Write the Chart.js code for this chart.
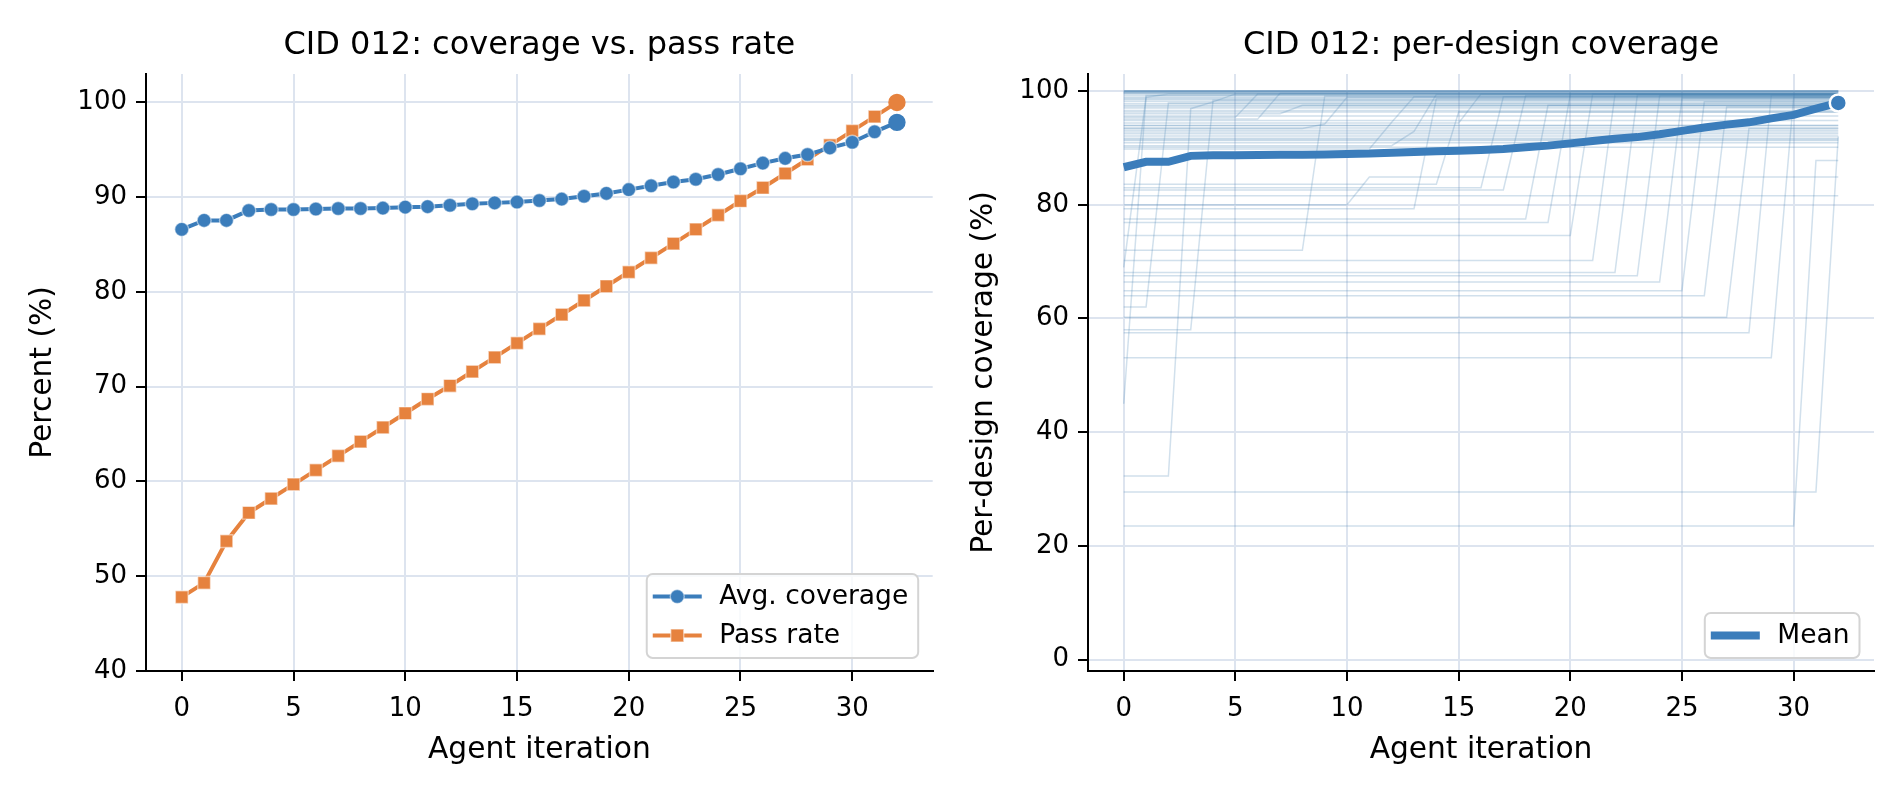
<!DOCTYPE html>
<html>
<head>
<meta charset="utf-8">
<script src="https://cdn.jsdelivr.net/npm/chart.js@4.4.1/dist/chart.umd.min.js"></script>
<style>
  html, body { margin: 0; padding: 0; background: #fff; }
  #wrap { position: relative; width: 1900px; height: 793px; overflow: hidden; }
  .panel { position: absolute; top: 0; width: 950px; height: 793px; }
  #p1 { left: 0; }
  #p2 { left: 950px; }
</style>
</head>
<body>
<div id="wrap">
  <div class="panel" id="p1"><canvas id="c1" width="950" height="793"></canvas></div>
  <div class="panel" id="p2"><canvas id="c2" width="950" height="793"></canvas></div>
</div>
<script>
// ---------------- data ----------------
const iterations = [0,1,2,3,4,5,6,7,8,9,10,11,12,13,14,15,16,17,18,19,20,21,22,23,24,25,26,27,28,29,30,31,32];
const avgCoverage = [86.6,87.55,87.55,88.6,88.7,88.7,88.75,88.8,88.8,88.85,88.95,89.0,89.15,89.3,89.4,89.5,89.65,89.8,90.1,90.4,90.8,91.2,91.6,91.9,92.4,93.0,93.6,94.1,94.5,95.2,95.8,96.9,97.9];
const passRate = [47.8,49.3,53.7,56.7,58.2,59.7,61.2,62.7,64.2,65.7,67.2,68.7,70.1,71.6,73.1,74.6,76.1,77.6,79.1,80.6,82.1,83.6,85.1,86.6,88.1,89.6,91.0,92.5,94.0,95.5,97.0,98.5,100.0];
const meanCoverage = avgCoverage;
const xTicks = [0,5,10,15,20,25,30];
const yTicksLeft = [40,50,60,70,80,90,100];
const yTicksRight = [0,20,40,60,80,100];
// per-design coverage: [iteration, value] change points (value holds until next change)
const designs = [
  [[0,100]],[[0,100]],[[0,100]],[[0,100]],[[0,99.9]],[[0,99.8]],[[0,99.6]],[[0,99.5]],[[0,99.2]],
  [[0,98.9],[2,99.5]],[[0,98.5]],[[0,98.2]],[[0,97.8]],[[0,97.5]],[[0,97.0]],[[0,96.6]],
  [[0,96.0],[8,97.5]],[[0,95.6]],[[0,95.4],[6,99.5]],[[0,95.1],[7,99.6]],[[0,94.8]],
  [[0,94.4],[16,99.5]],[[0,93.9]],[[0,93.5]],[[0,93.4],[9,94.2],[10,98.9]],[[0,93.1]],
  [[0,92.8]],[[0,92.5]],[[0,92.1]],[[0,91.7]],[[0,91.3]],[[0,90.9]],
  [[0,90.4],[13,92.9],[14,99.4]],[[0,89.8],[12,94.5],[13,99.0]],
  [[0,99.7]],[[0,98.7]],[[0,97.3]],[[0,96.3]],[[0,94.0]],[[0,91.5]],[[0,90.1]],
  [[0,83.6],[15,96.3]],[[0,83.0],[17,99.0]],[[0,82.6],[18,99.2]],[[0,81.6]],
  [[0,80.0],[11,84.9]],[[0,79.3],[14,98.7]],[[0,77.5],[19,97.5]],[[0,76.9],[20,99.5]],
  [[0,74.6],[21,99.5]],[[0,70.2],[22,99.4]],[[0,68.1],[23,99.3]],[[0,67.5],[24,99.2]],
  [[0,66.4],[25,98.8]],[[0,64.9],[26,98.1]],[[0,64.0],[27,97.2]],[[0,60.2],[28,93.4]],
  [[0,57.5],[29,99.3]],[[0,53.1],[30,98.9]],[[0,23.5],[31,87.8]],[[0,29.5],[32,92.0]],
  [[0,32.3],[3,96.9],[4,98.1],[5,99.5]],[[0,69.0],[1,98.9]],[[0,45.0],[1,99.2]],
  [[0,62.0],[2,97.9]],[[0,58.0],[4,98.4]],[[0,72.0],[9,99.1]]
];

// ---------------- styles ----------------
const BLUE = '#3b7dbb';
const ORANGE = '#e6823e';
const GRID = '#dde4ef';
const FONT = '"DejaVu Sans", sans-serif';
const lastIter = iterations[iterations.length - 1];
const lastIdx = iterations.length - 1;

function toPoints(ys) { return iterations.map((x, i) => ({x: x, y: ys[i]})); }
function stepVertices(changes) {
  const pts = [{x: changes[0][0], y: changes[0][1]}];
  for (let i = 1; i < changes.length; i++) {
    pts.push({x: changes[i][0] - 1, y: changes[i - 1][1]});
    pts.push({x: changes[i][0], y: changes[i][1]});
  }
  pts.push({x: lastIter, y: changes[changes.length - 1][1]});
  return pts;
}

const legendBox = {
  id: 'legendBox',
  afterDraw(chart) {
    const items = chart.data.datasets.filter(d => d.inLegend);
    if (!items.length) return;
    const {ctx, chartArea: a} = chart;
    const fs = 26.5, rowH = 39, padV = 22.5, textOff = 72.5, padR = 10;
    ctx.save();
    ctx.font = fs + 'px ' + FONT;
    const tw = Math.max(...items.map(d => ctx.measureText(d.label).width));
    const w = textOff + tw + padR;
    const h = 2 * padV + (items.length - 1) * rowH;
    const x0 = a.right - 14.5 - w;
    const y0 = a.bottom - 13 - h;
    ctx.beginPath();
    ctx.roundRect(x0, y0, w, h, 6);
    ctx.fillStyle = 'rgba(255,255,255,0.8)';
    ctx.fill();
    ctx.strokeStyle = '#d4d4d4';
    ctx.lineWidth = 2;
    ctx.stroke();
    items.forEach((d, i) => {
      const cy = y0 + padV + i * rowH;
      ctx.strokeStyle = d.borderColor;
      ctx.lineWidth = d.borderWidth;
      ctx.beginPath(); ctx.moveTo(x0 + 6, cy); ctx.lineTo(x0 + 55, cy); ctx.stroke();
      const cx = x0 + 30.5;
      if (d.legendMarker === 'circle') {
        ctx.beginPath(); ctx.arc(cx, cy, 7, 0, Math.PI * 2);
        ctx.fillStyle = d.borderColor; ctx.fill();
        ctx.strokeStyle = 'rgba(255,255,255,0.5)'; ctx.lineWidth = 1.4; ctx.stroke();
      } else if (d.legendMarker === 'rect') {
        ctx.beginPath(); ctx.rect(cx - 6.5, cy - 6.5, 13, 13);
        ctx.fillStyle = d.borderColor; ctx.fill();
        ctx.strokeStyle = 'rgba(255,255,255,0.5)'; ctx.lineWidth = 1.4; ctx.stroke();
      }
      ctx.fillStyle = '#000';
      ctx.textAlign = 'left';
      ctx.textBaseline = 'middle';
      ctx.fillText(d.label, x0 + textOff, cy + 1);
    });
    ctx.restore();
  }
};

function makeScales(yMin, yMax, yTicks, yTitle, yWidth, yTitlePad) {
  const common = {
    type: 'linear',
    grid: { color: GRID, lineWidth: 2, drawTicks: true, tickLength: 10, tickColor: '#000', tickWidth: 2 },
    border: { display: true, color: '#000', width: 2 },
    ticks: { color: '#000', font: { family: FONT, size: 26 }, padding: 10 }
  };
  return {
    x: Object.assign({}, common, {
      min: -1.6, max: 33.6,
      afterBuildTicks: s => { s.ticks = xTicks.map(v => ({value: v})); },
      afterFit: s => { s.height = 122; },
      ticks: Object.assign({}, common.ticks, { padding: 12.4, maxRotation: 0, autoSkip: false }),
      title: { display: true, text: 'Agent iteration', color: '#000', font: { family: FONT, size: 29.7 }, padding: { top: 0, bottom: 25 } }
    }),
    y: Object.assign({}, common, {
      min: yMin, max: yMax,
      afterBuildTicks: s => { s.ticks = yTicks.map(v => ({value: v})); },
      afterFit: s => { s.width = yWidth; },
      ticks: Object.assign({}, common.ticks, { padding: 9 }),
      title: { display: true, text: yTitle, color: '#000', font: { family: FONT, size: 29.7 }, padding: { top: yTitlePad, bottom: 0 } }
    })
  };
}

function titleOpts(text) {
  return { display: true, text: text, fullSize: false, color: '#000',
           font: { family: FONT, size: 32, weight: 'normal' }, padding: { top: 26, bottom: 9.6 } };
}

// ---------------- left chart ----------------
new Chart(document.getElementById('c1'), {
  type: 'line',
  data: {
    datasets: [
      {
        label: 'Avg. coverage', data: toPoints(avgCoverage), inLegend: true, legendMarker: 'circle',
        borderColor: BLUE, backgroundColor: BLUE, borderWidth: 4,
        pointStyle: 'circle',
        pointRadius: c => c.dataIndex === lastIdx ? 8 : 7,
        pointBackgroundColor: BLUE,
        pointBorderColor: c => c.dataIndex === lastIdx ? BLUE : 'rgba(255,255,255,0.5)',
        pointBorderWidth: 1.4, tension: 0
      },
      {
        label: 'Pass rate', data: toPoints(passRate), inLegend: true, legendMarker: 'rect',
        borderColor: ORANGE, backgroundColor: ORANGE, borderWidth: 4,
        pointStyle: c => c.dataIndex === lastIdx ? 'circle' : 'rect',
        pointRadius: c => c.dataIndex === lastIdx ? 8 : 9,
        pointBackgroundColor: ORANGE,
        pointBorderColor: c => c.dataIndex === lastIdx ? ORANGE : 'rgba(255,255,255,0.5)',
        pointBorderWidth: 1.4, tension: 0
      }
    ]
  },
  options: {
    responsive: false, animation: false, devicePixelRatio: 1,
    layout: { padding: { left: 0, right: 17.3, top: 0, bottom: 0 } },
    plugins: { legend: { display: false }, tooltip: { enabled: false }, title: titleOpts('CID 012: coverage vs. pass rate') },
    scales: makeScales(40, 103, yTicksLeft, 'Percent (%)', 146, 25)
  },
  plugins: [legendBox]
});

// ---------------- right chart ----------------
const designSets = designs.map(d => ({
  label: '', data: stepVertices(d), borderColor: 'rgba(70,130,180,0.25)', borderWidth: 1.5,
  pointRadius: 0, tension: 0
}));
new Chart(document.getElementById('c2'), {
  type: 'line',
  data: {
    datasets: [
      {
        label: 'Mean', data: toPoints(meanCoverage), inLegend: true, legendMarker: null,
        borderColor: BLUE, backgroundColor: BLUE, borderWidth: 8, tension: 0,
        pointRadius: c => c.dataIndex === lastIdx ? 8.5 : 0,
        pointBackgroundColor: BLUE, pointBorderColor: '#fff', pointBorderWidth: 2.5
      }
    ].concat(designSets)
  },
  options: {
    responsive: false, animation: false, devicePixelRatio: 1,
    layout: { padding: { left: 0, right: 26, top: 0, bottom: 0 } },
    plugins: { legend: { display: false }, tooltip: { enabled: false }, title: titleOpts('CID 012: per-design coverage') },
    scales: makeScales(-2, 103, yTicksRight, 'Per-design coverage (%)', 138, 16)
  },
  plugins: [legendBox]
});
</script>
</body>
</html>
